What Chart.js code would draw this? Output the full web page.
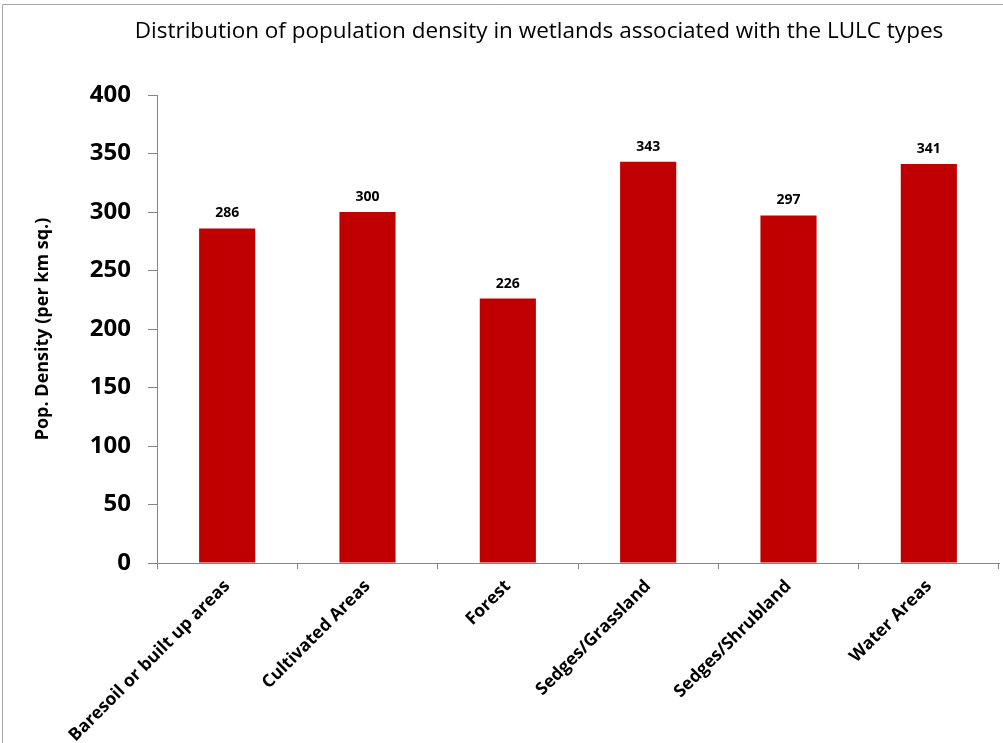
<!DOCTYPE html>
<html lang="en">
<head>
    <meta charset="UTF-8">
    <title>Population density by LULC type</title>
    <script src="https://cdn.jsdelivr.net/npm/chart.js"></script>
    <style>
        body { margin: 0; background: #fff; }
        #chart { display: block; }
    </style>
</head>
<body>
    <canvas id="chart" width="1003" height="743"></canvas>

    <script>
        // LULC categories and mean population density (per km sq.)
        const categories = ["Baresoil or built up areas", "Cultivated Areas", "Forest", "Sedges/Grassland", "Sedges/Shrubland", "Water Areas"];
        const density = [286, 300, 226, 343, 297, 341];
        const yTicks = [0, 50, 100, 150, 200, 250, 300, 350, 400];
        const chartTitle = 'Distribution of population density in wetlands associated with the LULC types';

        const FONT = "'Open Sans', 'Liberation Sans', sans-serif";

        // white background, thin grey frame on the top and left edges, and the heading
        const framePlugin = {
            id: 'frame',
            beforeDraw(chart) {
                const ctx = chart.ctx;
                ctx.save();
                ctx.fillStyle = '#fff';
                ctx.fillRect(0, 0, chart.width, chart.height);
                ctx.strokeStyle = '#a6a6a6';
                ctx.lineWidth = 1;
                ctx.beginPath();
                ctx.moveTo(2.5, chart.height);
                ctx.lineTo(2.5, 4.5);
                ctx.lineTo(chart.width, 4.5);
                ctx.stroke();

                // heading sits a little right of the canvas centre
                ctx.font = '22.5px ' + FONT;
                ctx.fillStyle = '#000';
                ctx.textAlign = 'center';
                ctx.textBaseline = 'middle';
                ctx.fillText(chartTitle, 539, 32);
                ctx.restore();
            }
        };

        // value written above each bar
        const valueLabels = {
            id: 'valueLabels',
            afterDatasetsDraw(chart) {
                const ctx = chart.ctx;
                const meta = chart.getDatasetMeta(0);
                ctx.save();
                ctx.font = 'bold 14px ' + FONT;
                ctx.fillStyle = '#000';
                ctx.textAlign = 'center';
                ctx.textBaseline = 'bottom';
                meta.data.forEach((bar, i) => {
                    ctx.fillText(String(density[i]), bar.x, bar.y - 8);
                });
                ctx.restore();
            }
        };

        new Chart(document.getElementById('chart'), {
            type: 'bar',
            data: {
                labels: categories,
                datasets: [{
                    data: density,
                    backgroundColor: '#c00000',
                    borderWidth: 0,
                    barPercentage: 0.4,
                    categoryPercentage: 1
                }]
            },
            options: {
                responsive: false,
                devicePixelRatio: 1,
                animation: false,
                layout: { padding: { left: 0, right: 4, top: 95, bottom: 0 } },
                plugins: {
                    legend: { display: false },
                    tooltip: { enabled: false },
                    title: { display: false }
                },
                scales: {
                    x: {
                        grid: {
                            offset: true,
                            drawOnChartArea: false,
                            color: '#868686',
                            tickLength: 6
                        },
                        border: { color: '#868686', width: 1 },
                        ticks: {
                            color: '#000',
                            font: { family: FONT, size: 17.5, weight: 'bold' },
                            minRotation: 45,
                            maxRotation: 45,
                            autoSkip: false,
                            padding: 7
                        },
                        afterFit(scale) { scale.height = 180; }
                    },
                    y: {
                        min: 0,
                        max: 400,
                        afterBuildTicks(scale) {
                            scale.ticks = yTicks.map(v => ({ value: v }));
                        },
                        grid: {
                            drawOnChartArea: false,
                            color: '#868686',
                            tickLength: 9
                        },
                        border: { color: '#868686', width: 1 },
                        ticks: {
                            color: '#000',
                            font: { family: FONT, size: 24, weight: 'bold' },
                            padding: 17
                        },
                        title: {
                            display: true,
                            text: 'Pop. Density (per km sq.)',
                            color: '#000',
                            font: { family: FONT, size: 18, weight: 'bold', lineHeight: 1.2 },
                            padding: { top: 32, bottom: 0 }
                        },
                        afterFit(scale) { scale.width = 157; }
                    }
                }
            },
            plugins: [framePlugin, valueLabels]
        });
    </script>
</body>
</html>
